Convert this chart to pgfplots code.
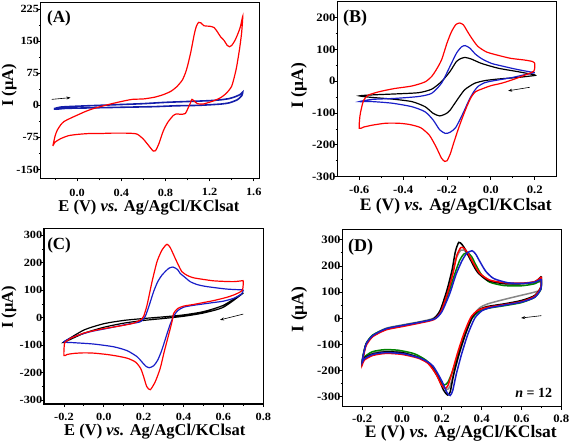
\documentclass[border=0pt]{standalone}
\usepackage{fontspec}
\setmainfont{Liberation Serif}
\newfontfamily\tickfont{Liberation Serif}[FakeStretch=1.12]
\usepackage{pgfplots}
\pgfplotsset{compat=1.18}
\usetikzlibrary{arrows.meta}
\definecolor{cvred}{RGB}{255,0,0}
\definecolor{cvblue}{RGB}{25,30,200}
\definecolor{cvnavy}{RGB}{20,30,170}
\definecolor{cvgreen}{RGB}{0,130,0}
\definecolor{cvgray}{RGB}{135,135,135}
\pgfplotsset{
  cv/.style={
    scale only axis,
    axis line style={line width=1.1pt},
    tick align=outside, tick pos=left,
    major tick length=3pt, minor tick length=1.8pt,
    every tick/.style={black, line width=0.8pt},
    xticklabel={\pgfmathprintnumber[fixed,fixed zerofill,precision=1,assume math mode=true]{\tick}},
    yticklabel={\pgfmathprintnumber[assume math mode=true]{\tick}},
    xticklabel style={anchor=north, inner sep=0pt, text depth=0pt},
    yticklabel style={anchor=east, inner sep=0pt, xshift=1.5pt},
    xlabel style={text height=9.5pt, text depth=0pt, inner sep=0pt},
    clip=false,
  },
  cvleft/.style={
    every tick label/.append style={font=\tickfont\bfseries\fontsize{11}{12}\selectfont},
    xticklabel style={yshift=-7pt},
    every axis label/.append style={font=\bfseries\fontsize{16.5}{18}\selectfont},
  },
  cvright/.style={
    every tick label/.append style={font=\tickfont\bfseries\fontsize{11.4}{12}\selectfont},
    xticklabel style={yshift=-6.5pt},
    every axis label/.append style={font=\bfseries\fontsize{17.5}{19}\selectfont},
  },
}
\newcommand{\xlab}{E (V) \textit{vs.} Ag/AgCl/KClsat}
\newcommand{\ylab}{I (μA)}
\begin{document}
\begin{tikzpicture}
\useasboundingbox (0,0) rectangle (569pt,442pt);
% ---------------- (A)
\begin{axis}[cv, cvleft, at={(40.7pt,263.5pt)}, anchor=south west,
  width=218.6pt, height=175.8pt,
  xmin=-0.33, xmax=1.65, ymin=-171, ymax=240,
  xtick={0,0.4,0.8,1.2,1.6}, minor xtick={-0.2,0.2,0.6,1.0,1.4},
  ytick={-150,-75,0,75,150,225}, minor ytick={-112.5,-37.5,37.5,112.5,187.5},
  xlabel={\xlab}, ylabel={\ylab},
  xlabel style={at={(rel axis cs:0.495,-0.19)}, anchor=base},
  ylabel style={at={(rel axis cs:-0.144,0.53)}, anchor=center},
]
\addplot[cvnavy, line width=1.6pt, smooth, tension=0.4] coordinates {
(-0.21,-8) (-0.15,-4) (0,-2) (0.2,0) (0.4,2) (0.6,4) (0.8,7) (1.0,9) (1.2,11) (1.3,13) (1.38,16) (1.44,21) (1.48,26) (1.5,31)
(1.49,22) (1.45,13) (1.38,6) (1.3,3) (1.1,0) (0.9,-1) (0.7,-3) (0.5,-4) (0.3,-5) (0.1,-6) (-0.1,-7) (-0.19,-9) (-0.21,-8)};
\addplot[cvred, line width=1.2pt, smooth, tension=0.4] coordinates {
(-0.22,-95) (-0.2,-72) (-0.18,-58) (-0.15,-46) (-0.12,-38) (-0.06,-30) (0,-23) (0.06,-16) (0.13,-9) (0.21,-3) (0.3,3) (0.4,9) (0.5,14) (0.6,15) (0.7,19) (0.78,25) (0.85,33) (0.9,43) (0.95,58) (0.98,75) (1.0,92) (1.03,125) (1.06,165) (1.08,185) (1.1,194) (1.12,193) (1.15,186) (1.2,185) (1.24,182) (1.27,172) (1.3,160) (1.33,152) (1.36,140) (1.38,137) (1.4,140) (1.43,152) (1.46,170) (1.48,185) (1.5,208)
(1.49,170) (1.47,130) (1.44,84) (1.4,45) (1.35,28) (1.3,18) (1.23,10) (1.14,3) (1.09,4) (1.06,10) (1.04,14) (1.025,5) (1.0,-9) (0.98,-19) (0.94,-21) (0.9,-20) (0.87,-24) (0.82,-40) (0.78,-60) (0.74,-90) (0.71,-106) (0.69,-107) (0.66,-98) (0.6,-79) (0.54,-67) (0.45,-65) (0.3,-65) (0.2,-66) (0.1,-66) (0,-68) (-0.08,-71) (-0.15,-78) (-0.2,-86) (-0.22,-95)};
\draw[-{Stealth[length=4pt,width=3pt]}, line width=0.6pt] (axis cs:-0.23,14) -- (axis cs:-0.06,18);
\node[anchor=north west, font=\bfseries\fontsize{17}{18}\selectfont, inner sep=0pt] at (rel axis cs:0.029,0.955) {(A)};
\end{axis}
% ---------------- (B)
\begin{axis}[cv, cvright, at={(337.3pt,265.3pt)}, anchor=south west,
  width=219.4pt, height=175pt,
  xmin=-0.7, xmax=0.3, ymin=-300, ymax=250,
  xtick={-0.6,-0.4,-0.2,0,0.2}, minor xtick={-0.5,-0.3,-0.1,0.1},
  ytick={-300,-200,-100,0,100,200}, minor ytick={-250,-150,-50,50,150},
  xlabel={\xlab}, ylabel={\ylab},
  xlabel style={at={(rel axis cs:0.54,-0.193)}, anchor=base},
  ylabel style={at={(rel axis cs:-0.175,0.52)}, anchor=center},
]
\addplot[black, line width=1.2pt, smooth, tension=0.4] coordinates {
(0.2,18) (0.124,12) (0.033,7) (-0.028,2) (-0.073,-6) (-0.1,-17) (-0.12,-27) (-0.14,-45) (-0.164,-69) (-0.185,-90) (-0.202,-101) (-0.233,-109) (-0.263,-101) (-0.3,-80) (-0.36,-64) (-0.45,-56) (-0.54,-51) (-0.6,-46)
(-0.544,-43) (-0.44,-40) (-0.33,-36) (-0.27,-25) (-0.225,-1) (-0.187,30) (-0.157,62) (-0.135,72) (-0.119,75) (-0.09,70) (-0.043,56) (0.033,41) (0.124,30) (0.2,20) (0.2,18)};
\addplot[cvblue, line width=1.2pt, smooth, tension=0.4] coordinates {
(0.2,27) (0.15,20) (0.1,12) (0.05,6) (0,0) (-0.03,-5) (-0.06,-17) (-0.08,-35) (-0.1,-60) (-0.13,-105) (-0.16,-145) (-0.185,-160) (-0.207,-164) (-0.233,-153) (-0.263,-122) (-0.3,-96) (-0.36,-80) (-0.45,-69) (-0.54,-64) (-0.6,-64)
(-0.54,-57) (-0.44,-54) (-0.33,-48) (-0.27,-38) (-0.225,-6) (-0.187,46) (-0.157,88) (-0.134,108) (-0.117,112) (-0.096,104) (-0.07,85) (-0.04,70) (0.003,56) (0.05,48) (0.1,40) (0.15,33) (0.2,27)};
\addplot[cvred, line width=1.2pt, smooth, tension=0.4] coordinates {
(0.2,56) (0.196,32) (0.15,18) (0.1,5) (0.05,-6) (0,-14) (-0.04,-24) (-0.07,-33) (-0.09,-50) (-0.11,-80) (-0.13,-115) (-0.15,-153) (-0.17,-195) (-0.185,-228) (-0.2,-250) (-0.21,-252) (-0.225,-242) (-0.25,-206) (-0.28,-170) (-0.32,-146) (-0.37,-136) (-0.42,-132) (-0.48,-132) (-0.54,-138) (-0.58,-144) (-0.6,-148)
(-0.597,-110) (-0.59,-85) (-0.58,-60) (-0.56,-44) (-0.51,-33) (-0.44,-23) (-0.36,-15) (-0.3,-2) (-0.27,15) (-0.25,35) (-0.225,67) (-0.2,120) (-0.18,155) (-0.16,178) (-0.142,183) (-0.125,177) (-0.11,160) (-0.09,138) (-0.06,110) (-0.02,92) (0.03,82) (0.09,72) (0.15,67) (0.19,62) (0.2,56)};
\draw[-{Stealth[length=4pt,width=3pt]}, line width=0.6pt] (axis cs:0.177,-19) -- (axis cs:0.079,-30);
\node[anchor=north west, font=\bfseries\fontsize{18}{19}\selectfont, inner sep=0pt] at (rel axis cs:0.026,0.955) {(B)};
\end{axis}
% ---------------- (C)
\begin{axis}[cv, cvleft, at={(44pt,38pt)}, anchor=south west,
  width=219.3pt, height=175.7pt,
  xmin=-0.3, xmax=0.8, ymin=-314, ymax=325,
  xtick={-0.2,0,0.2,0.4,0.6,0.8}, minor xtick={-0.1,0.1,0.3,0.5,0.7},
  ytick={-300,-200,-100,0,100,200,300}, minor ytick={-250,-150,-50,50,150,250},
  xticklabel style={yshift=1pt},
  xlabel={\xlab}, ylabel={\ylab},
  xlabel style={at={(rel axis cs:0.505,-0.18)}, anchor=base},
  ylabel style={at={(rel axis cs:-0.16,0.55)}, anchor=center},
]
\addplot[black, line width=1.2pt, smooth, tension=0.4] coordinates {
(-0.2,-88) (-0.1,-45) (0,-22) (0.1,-10) (0.2,-3) (0.3,3) (0.4,10) (0.5,22) (0.6,45) (0.7,90)
(0.6,38) (0.5,17) (0.4,5) (0.3,-3) (0.2,-10) (0.1,-20) (0,-35) (-0.1,-57) (-0.2,-90) (-0.2,-88)};
\addplot[cvblue, line width=1.2pt, smooth, tension=0.4] coordinates {
(0.7,101) (0.69,85) (0.65,70) (0.6,60) (0.55,55) (0.5,50) (0.45,45) (0.4,38) (0.37,25) (0.35,5) (0.33,-30) (0.31,-75) (0.29,-120) (0.27,-155) (0.25,-175) (0.228,-182) (0.21,-176) (0.19,-160) (0.167,-142) (0.117,-120) (0.05,-106) (-0.05,-96) (-0.15,-91) (-0.2,-88)
(-0.15,-69) (-0.067,-51) (0.017,-39) (0.117,-24) (0.183,-15) (0.208,5) (0.23,50) (0.25,95) (0.27,130) (0.292,155) (0.325,179) (0.347,184) (0.37,175) (0.383,161) (0.41,145) (0.433,131) (0.47,120) (0.517,113) (0.617,104) (0.7,101)};
\addplot[cvred, line width=1.2pt, smooth, tension=0.4] coordinates {
(0.7,135) (0.695,100) (0.66,85) (0.617,74) (0.55,62) (0.5,55) (0.45,48) (0.4,42) (0.37,33) (0.35,15) (0.342,-15) (0.325,-63) (0.303,-124) (0.283,-184) (0.258,-233) (0.233,-262) (0.215,-250) (0.2,-215) (0.185,-185) (0.16,-162) (0.12,-148) (0.07,-140) (0.017,-134) (-0.05,-129) (-0.1,-128) (-0.15,-130) (-0.185,-134) (-0.2,-138)
(-0.197,-93) (-0.18,-82) (-0.167,-75) (-0.1,-56) (-0.017,-42) (0.083,-30) (0.15,-20) (0.19,-5) (0.2,5) (0.217,46) (0.242,131) (0.267,204) (0.292,246) (0.317,267) (0.333,255) (0.345,237) (0.358,216) (0.375,190) (0.392,167) (0.42,153) (0.45,145) (0.5,139) (0.55,134) (0.6,132) (0.65,131) (0.68,133) (0.7,135)};
\draw[-{Stealth[length=4pt,width=3pt]}, line width=0.6pt] (axis cs:0.7,13) -- (axis cs:0.583,-8);
\node[anchor=north west, font=\bfseries\fontsize{17}{18}\selectfont, inner sep=0pt] at (rel axis cs:0.014,0.95) {(C)};
\end{axis}
% ---------------- (D)
\begin{axis}[cv, cvright, at={(342.3pt,35.5pt)}, anchor=south west,
  width=219pt, height=176.7pt,
  xmin=-0.3, xmax=0.8, ymin=-337, ymax=338,
  xtick={-0.2,0,0.2,0.4,0.6,0.8}, minor xtick={-0.1,0.1,0.3,0.5,0.7},
  ytick={-300,-200,-100,0,100,200,300}, minor ytick={-250,-150,-50,50,150,250},
  xticklabel style={yshift=1.5pt},
  xlabel={\xlab}, ylabel={\ylab},
  xlabel style={at={(rel axis cs:0.541,-0.177)}, anchor=base},
  ylabel style={at={(rel axis cs:-0.197,0.55)}, anchor=center},
]
\addplot[cvgray, line width=1.5pt, smooth, tension=0.4] coordinates {
(0.7,140) (0.697,110) (0.666,100) (0.6,88) (0.513,72) (0.43,55) (0.39,40) (0.355,8) (0.32,-58) (0.288,-135) (0.26,-210) (0.24,-262) (0.225,-272) (0.205,-258) (0.18,-218) (0.14,-172) (0.09,-150) (0.005,-130) (-0.08,-125) (-0.147,-133) (-0.19,-150) (-0.2,-165)
(-0.195,-142) (-0.181,-98) (-0.147,-65) (-0.08,-38) (0.005,-25) (0.09,-13) (0.157,0) (0.192,30) (0.228,105) (0.255,180) (0.275,235) (0.295,260) (0.31,261) (0.33,245) (0.355,212) (0.39,172) (0.44,145) (0.513,133) (0.598,132) (0.666,136) (0.7,140)};
\addplot[cvgreen, line width=1.5pt, smooth, tension=0.4] coordinates {
(0.7,148) (0.697,110) (0.666,80) (0.6,60) (0.513,48) (0.43,38) (0.385,25) (0.35,-2) (0.315,-62) (0.283,-135) (0.255,-200) (0.23,-245) (0.21,-255) (0.19,-238) (0.165,-200) (0.12,-160) (0.06,-135) (-0.02,-122) (-0.09,-120) (-0.15,-128) (-0.19,-148) (-0.2,-165)
(-0.195,-140) (-0.18,-96) (-0.147,-64) (-0.08,-40) (0.005,-27) (0.09,-15) (0.16,-3) (0.195,25) (0.235,100) (0.265,170) (0.29,222) (0.31,245) (0.33,250) (0.35,235) (0.37,205) (0.4,165) (0.44,138) (0.513,125) (0.598,124) (0.666,132) (0.7,148)};
\addplot[black, line width=1.5pt, smooth, tension=0.4] coordinates {
(0.7,160) (0.698,120) (0.666,87) (0.6,68) (0.513,55) (0.429,45) (0.386,32) (0.352,3) (0.318,-61) (0.285,-139) (0.259,-216) (0.242,-281) (0.229,-293) (0.208,-274) (0.183,-229) (0.14,-177) (0.09,-152) (0.005,-132) (-0.08,-128) (-0.147,-136) (-0.19,-152) (-0.2,-170)
(-0.195,-145) (-0.181,-100) (-0.147,-68) (-0.08,-42) (0.005,-29) (0.09,-16) (0.157,-3) (0.191,29) (0.225,106) (0.251,184) (0.268,255) (0.285,290) (0.302,281) (0.319,261) (0.344,223) (0.378,177) (0.429,145) (0.513,132) (0.598,132) (0.666,139) (0.7,160)};
\addplot[cvred, line width=1.5pt, smooth, tension=0.4] coordinates {
(0.7,158) (0.697,118) (0.666,84) (0.6,64) (0.513,52) (0.429,42) (0.38,30) (0.345,3) (0.31,-60) (0.278,-135) (0.25,-210) (0.23,-258) (0.215,-268) (0.196,-252) (0.17,-212) (0.13,-172) (0.08,-152) (0.0,-138) (-0.08,-134) (-0.147,-142) (-0.19,-160) (-0.2,-178)
(-0.195,-150) (-0.18,-104) (-0.147,-70) (-0.08,-44) (0.005,-31) (0.09,-18) (0.16,-5) (0.195,25) (0.23,100) (0.257,175) (0.275,240) (0.295,270) (0.31,268) (0.33,250) (0.355,215) (0.39,172) (0.44,146) (0.513,136) (0.598,134) (0.666,140) (0.7,158)};
\addplot[cvblue, line width=1.5pt, smooth, tension=0.4] coordinates {
(0.7,150) (0.697,112) (0.666,80) (0.6,62) (0.513,50) (0.44,40) (0.4,28) (0.365,0) (0.33,-62) (0.298,-140) (0.272,-215) (0.255,-275) (0.242,-295) (0.225,-283) (0.2,-240) (0.155,-182) (0.1,-155) (0.01,-136) (-0.08,-131) (-0.147,-138) (-0.19,-155) (-0.2,-168)
(-0.195,-142) (-0.18,-98) (-0.147,-66) (-0.08,-40) (0.005,-27) (0.09,-15) (0.165,-2) (0.2,25) (0.24,95) (0.27,165) (0.3,218) (0.325,248) (0.352,258) (0.37,245) (0.39,218) (0.42,180) (0.46,152) (0.53,136) (0.6,133) (0.666,138) (0.7,150)};
\draw[-{Stealth[length=4pt,width=3pt]}, line width=0.6pt] (axis cs:0.70,10) -- (axis cs:0.598,1);
\node[anchor=north west, font=\bfseries\fontsize{18}{19}\selectfont, inner sep=0pt] at (rel axis cs:0.026,0.95) {(D)};
\node[anchor=base east, font=\bfseries\fontsize{14}{15}\selectfont, inner sep=0pt] at (axis cs:0.755,-304) {\textit{n} = 12};
\end{axis}
\end{tikzpicture}
\end{document}
